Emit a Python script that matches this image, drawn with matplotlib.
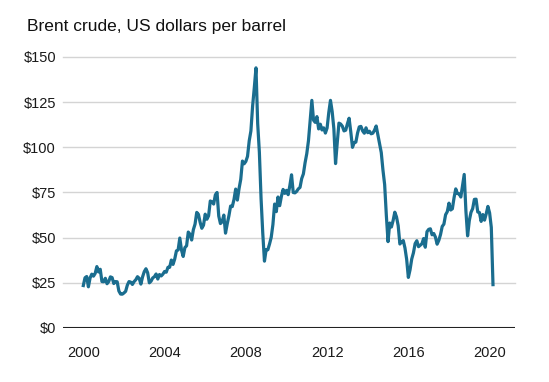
import numpy as np
import pandas as pd
import matplotlib
matplotlib.use("Agg")
import matplotlib.pyplot as plt

plt.rcParams['font.family'] = ['Liberation Sans', 'DejaVu Sans']

# monthly Brent prices, Jan 2000 - Mar 2020 (USD per barrel)
brent_2000 = [23.5, 27.8, 28.5, 22.8, 27.7, 29.8, 28.7, 30.2, 34.0, 31.0, 32.5, 25.7]
brent_2001 = [25.6, 27.5, 24.5, 25.7, 28.3, 27.9, 24.6, 25.7, 25.6, 20.5, 18.8, 18.7]
brent_2002 = [19.4, 20.3, 23.7, 25.7, 25.4, 24.1, 25.7, 26.7, 28.4, 27.5, 24.3, 28.3]
brent_2003 = [31.2, 32.8, 30.6, 25.0, 25.9, 27.7, 28.4, 29.9, 27.1, 29.6, 28.8, 29.8]
brent_2004 = [31.3, 30.9, 33.6, 33.6, 37.6, 35.2, 38.2, 42.7, 43.2, 49.8, 43.1, 39.6]
brent_2005 = [44.5, 45.5, 53.1, 51.9, 48.7, 54.4, 57.5, 64.0, 62.9, 58.5, 55.2, 56.9]
brent_2006 = [63.0, 60.2, 62.1, 70.3, 69.8, 68.6, 73.7, 75.0, 62.0, 57.8, 58.8, 62.5]
brent_2007 = [52.5, 57.6, 62.1, 67.5, 67.2, 71.1, 76.9, 70.8, 77.2, 82.3, 92.4, 90.9]
brent_2008 = [92.2, 95.0, 103.6, 109.1, 122.8, 133.0, 144.0, 113.2, 97.2, 71.6, 52.5, 37.0]
brent_2009 = [43.4, 43.3, 46.5, 50.2, 57.3, 68.6, 64.4, 72.5, 67.7, 72.8, 76.7, 74.5]
brent_2010 = [76.2, 73.8, 78.8, 84.8, 75.0, 74.8, 75.6, 77.0, 77.8, 82.7, 85.3, 91.5]
brent_2011 = [96.5, 103.7, 114.6, 126.0, 115.0, 113.8, 117.0, 110.2, 112.8, 109.6, 110.8, 107.9]
brent_2012 = [110.7, 119.3, 126.0, 119.8, 110.3, 91.0, 102.6, 113.4, 112.9, 111.7, 109.1, 109.5]
brent_2013 = [113.0, 116.1, 108.5, 100.0, 102.6, 102.9, 107.9, 111.3, 111.6, 109.1, 107.8, 110.8]
brent_2014 = [108.1, 108.9, 107.5, 107.8, 109.5, 111.8, 106.8, 101.6, 97.1, 87.4, 79.4, 62.3]
brent_2015 = [47.8, 58.1, 55.9, 59.5, 64.1, 61.5, 56.6, 46.5, 47.6, 48.4, 44.3, 38.0]
brent_2016 = [28.0, 32.2, 38.2, 41.6, 46.7, 48.3, 45.0, 45.8, 46.6, 49.5, 44.7, 53.3]
brent_2017 = [54.6, 54.9, 51.6, 52.3, 50.3, 46.4, 48.5, 51.7, 56.2, 57.5, 62.7, 64.4]
brent_2018 = [69.1, 65.3, 66.0, 72.1, 77.0, 74.4, 74.3, 72.5, 78.9, 85.0, 64.8, 51.0]
brent_2019 = [59.4, 64.0, 66.1, 71.2, 71.3, 64.2, 63.9, 59.0, 62.8, 59.7, 63.2, 67.3]
brent_2020 = [63.7, 55.7, 24.0]

price = (brent_2000 + brent_2001 + brent_2002 + brent_2003 + brent_2004 + brent_2005
         + brent_2006 + brent_2007 + brent_2008 + brent_2009 + brent_2010 + brent_2011
         + brent_2012 + brent_2013 + brent_2014 + brent_2015 + brent_2016 + brent_2017
         + brent_2018 + brent_2019 + brent_2020)
months = pd.date_range("2000-01-01", periods=len(price), freq="MS")
t = months.year + (months.month - 1) / 12.0

yticks = [0, 25, 50, 75, 100, 125, 150]
xticks = [2000, 2004, 2008, 2012, 2016, 2020]

fig = plt.figure(figsize=(5.49, 3.82), dpi=100)
ax = fig.add_axes([63 / 549, 1 - 328 / 382, 452 / 549, 271 / 382])

ax.plot(t, price, color="#1a6d8f", lw=2.3, solid_joinstyle="round", clip_on=False, zorder=3)

ax.set_xlim(1999.0, 2021.25)
ax.set_ylim(0, 150)
ax.set_yticks(yticks)
ax.set_yticklabels(["$" + str(v) for v in yticks])
ax.set_xticks(xticks)
ax.set_xticklabels([str(v) for v in xticks])
ax.tick_params(axis="both", length=0, labelsize=10.5, colors="#1a1a1a")
ax.tick_params(axis="x", pad=13)
ax.tick_params(axis="y", pad=5)

for v in yticks[1:]:
    ax.axhline(v, color="#d4d4d4", lw=1.0, zorder=1, clip_on=False)
ax.axhline(0, color="#222222", lw=1.5, zorder=2)

for s in ax.spines.values():
    s.set_visible(False)

fig.text(27 / 549, 1 - 27 / 382, "Brent crude, US dollars per barrel",
         fontsize=12.5, color="#111111", va="center", ha="left")

fig.savefig("out.png", dpi=100)
